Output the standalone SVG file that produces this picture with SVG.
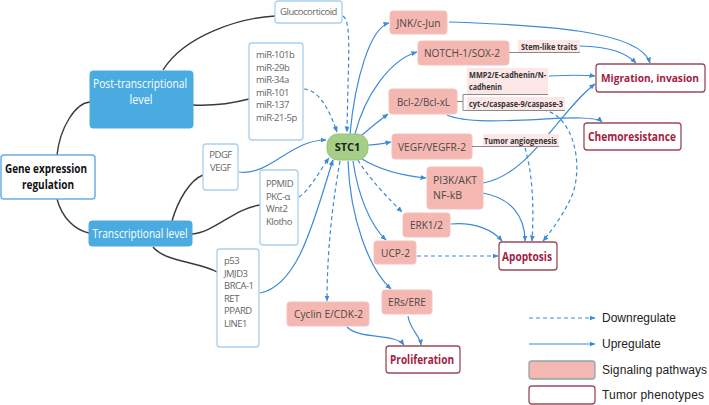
<svg xmlns="http://www.w3.org/2000/svg" width="709" height="405" viewBox="0 0 709 405">
<style>
text{font-family:"Open Sans","Noto Sans","Liberation Sans",sans-serif}
.bk{fill:none;stroke:#3a3a3a;stroke-width:1.4}
.up{fill:none;stroke:#3d8ad6;stroke-width:1.2;marker-end:url(#ah)}
.dn{fill:none;stroke:#3d8ad6;stroke-width:1.2;stroke-dasharray:4 3;marker-end:url(#ah)}
.lab{fill:none;stroke:#8a8a8a;stroke-width:1}
.blue{fill:#4aabe0;stroke:#4aabe0}
.wt{fill:#fff;font-size:12.5px;text-anchor:middle}
.src{fill:#fff;stroke:#a9cfee;stroke-width:1.3}
.st{fill:#666;font-size:9.5px;letter-spacing:-0.5px}
.sig{fill:#f5b7b1;stroke:#f3c2bd;stroke-width:1}
.sigt{fill:#4a4a4a;font-size:11.5px;text-anchor:middle}
.ph{fill:#fff;stroke:#9a4a5a;stroke-width:1.3}
.pht{fill:#a3213f;font-size:11.5px;font-weight:bold;text-anchor:middle}
.lb{fill:#fce6e6}
.lbt{fill:#333;font-size:8px;font-weight:bold}
.lg{fill:#222;font-size:12px;font-family:"Liberation Sans",Arial,sans-serif}
</style>
<defs>
<marker id="ah" markerWidth="6" markerHeight="6" refX="5.5" refY="3" orient="auto" markerUnits="userSpaceOnUse">
<path d="M0,0.5 L6,3 L0,5.5 z" fill="#3d8ad6"/>
</marker>
</defs>

<g id="connectors">
<path class="bk" d="M57,155 C60,128 75,103 90,102"/>
<path class="bk" d="M57,199 C62,218 75,230 89,233"/>
<path class="bk" d="M163,70 C185,35 240,18 275,16"/>
<path class="bk" d="M193,105 C215,106 230,104 249,99"/>
<path class="bk" d="M172,221 C178,200 190,180 203,175"/>
<path class="bk" d="M192,234 C215,232 235,208 260,205"/>
<path class="bk" d="M153,247 C165,262 200,262 217,272"/>

<path class="dn" d="M343,16 C352,22 348,60 347,132"/>
<path class="dn" d="M304,89 C320,90 330,112 337,132"/>
<path class="up" d="M239,172 C270,176 290,140 326,140"/>
<path class="dn" d="M299,197 C310,190 320,170 329,158"/>
<path class="up" d="M260,293 C300,285 315,215 333,160"/>

<path class="up" d="M350,134 C355,80 370,28 389,23"/>
<path class="up" d="M355,134 C365,95 390,60 417,52"/>
<path class="up" d="M362,135 C370,128 380,120 388,114"/>
<path class="up" d="M368,145 C375,145 380,144 391,142"/>
<path class="up" d="M362,159 C380,170 405,176 426,178"/>
<path class="dn" d="M358,160 C370,180 390,200 402,212"/>
<path class="up" d="M353,161 C358,195 370,225 386,240"/>
<path class="up" d="M348,161 C350,220 370,270 391,289"/>
<path class="dn" d="M340,161 C333,200 327,250 327,301"/>

<path class="up" d="M449,22 C540,25 640,30 650,63"/>
<path class="up" d="M580,46 C610,47 625,52 636,63"/>
<path class="up" d="M549,76 C570,75 585,75 595,76"/>
<path class="up" d="M447,115 C480,130 590,110 602,122"/>
<path class="dn" d="M543,110 C575,115 585,170 570,200 C560,220 548,235 543,241"/>
<path class="dn" d="M525,148 C533,175 534,210 532,241"/>
<path class="up" d="M483,183 C530,175 560,110 595,84"/>
<path class="up" d="M483,193 C510,198 525,215 525,241"/>
<path class="up" d="M451,224 C475,222 493,230 502,241"/>
<path class="dn" d="M417,256 L498,256"/>
<path class="up" d="M347,327 C360,340 395,333 404,345"/>
<path class="up" d="M408,316 C410,330 420,335 421,345"/>
</g>

<g id="gene">
<rect x="1" y="155" width="94" height="44" rx="3" fill="#fff" stroke="#6aaee3" stroke-width="1.5"/>
<text x="46" y="173" font-size="12" font-weight="bold" text-anchor="middle" fill="#111" textLength="82" lengthAdjust="spacingAndGlyphs">Gene expression</text>
<text x="48" y="189" font-size="12" font-weight="bold" text-anchor="middle" fill="#111" textLength="52" lengthAdjust="spacingAndGlyphs">regulation</text>
</g>
<g id="post">
<rect class="blue" x="90" y="71" width="103" height="57" rx="3"/>
<text class="wt" x="140" y="88" textLength="94" lengthAdjust="spacingAndGlyphs">Post-transcriptional</text>
<text class="wt" x="141" y="104" textLength="23" lengthAdjust="spacingAndGlyphs">level</text>
</g>
<g id="trans">
<rect class="blue" x="89" y="221" width="103" height="25" rx="3"/>
<text class="wt" x="140" y="238" textLength="95" lengthAdjust="spacingAndGlyphs">Transcriptional level</text>
</g>

<g id="glucocorticoid">
<rect class="src" x="275" y="1" width="67" height="22" rx="3"/>
<text class="st" x="308.5" y="15" text-anchor="middle">Glucocorticoid</text>
</g>
<g id="mir">
<rect class="src" x="249" y="43" width="54" height="97" rx="3"/>
<text class="st" x="256" y="58">miR-101b</text>
<text class="st" x="256" y="70.5">miR-29b</text>
<text class="st" x="256" y="83">miR-34a</text>
<text class="st" x="256" y="95.5">miR-101</text>
<text class="st" x="256" y="108">miR-137</text>
<text class="st" x="256" y="120.5">miR-21-5p</text>
</g>
<g id="pdgf">
<rect class="src" x="203" y="144" width="35" height="46" rx="3"/>
<text class="st" x="220.5" y="158" text-anchor="middle">PDGF</text>
<text class="st" x="220.5" y="170.5" text-anchor="middle">VEGF</text>
</g>
<g id="ppmid">
<rect class="src" x="260" y="170" width="38" height="75" rx="3"/>
<text class="st" x="266" y="187">PPMID</text>
<text class="st" x="266" y="199.5">PKC-α</text>
<text class="st" x="266" y="212">Wnt2</text>
<text class="st" x="266" y="224.5">Klotho</text>
</g>
<g id="p53">
<rect class="src" x="217" y="249" width="42" height="98" rx="3"/>
<text class="st" x="224" y="264">p53</text>
<text class="st" x="224" y="276.5">JMJD3</text>
<text class="st" x="224" y="289">BRCA-1</text>
<text class="st" x="224" y="301.5">RET</text>
<text class="st" x="224" y="314">PPARD</text>
<text class="st" x="224" y="326.5">LINE1</text>
</g>

<g id="stc1">
<rect x="327" y="134" width="41" height="26" rx="11" fill="#a5cf86" stroke="#97c47a"/>
<text x="347.5" y="151" font-size="11" font-weight="bold" text-anchor="middle" fill="#222">STC1</text>
</g>

<g id="jnk">
<rect class="sig" x="390" y="11" width="57" height="23" rx="3"/>
<text class="sigt" x="418.5" y="27" textLength="44" lengthAdjust="spacingAndGlyphs">JNK/c-Jun</text>
</g>
<g id="notch">
<rect class="sig" x="418" y="41" width="91" height="24" rx="3"/>
<text class="sigt" x="462" y="57" textLength="76" lengthAdjust="spacingAndGlyphs">NOTCH-1/SOX-2</text>
</g>
<g id="stem">
<rect class="lb" x="518" y="40" width="62" height="12"/>
<line class="lab" x1="509" y1="52.5" x2="580" y2="52.5"/>
<text class="lbt" x="521" y="49.5" textLength="56" lengthAdjust="spacingAndGlyphs">Stem-like traits</text>
</g>
<g id="bcl">
<rect class="sig" x="389" y="89" width="68" height="25" rx="3"/>
<text class="sigt" x="423.5" y="106" textLength="53" lengthAdjust="spacingAndGlyphs">Bcl-2/Bcl-xL</text>
</g>
<g id="mmp2">
<rect class="lb" x="467" y="68" width="81" height="26"/>
<line class="lab" x1="463" y1="94.5" x2="548" y2="94.5"/>
<text class="lbt" x="469" y="78" textLength="77" lengthAdjust="spacingAndGlyphs">MMP2/E-cadhenin/N-</text>
<text class="lbt" x="469" y="89.5" textLength="33" lengthAdjust="spacingAndGlyphs">cadhenin</text>
</g>
<g id="cytc">
<rect class="lb" x="467" y="97" width="98" height="13"/>
<line class="lab" x1="463" y1="110.5" x2="565" y2="110.5"/>
<path class="lab" d="M457,101.5 H463 V94.5 M463,101.5 V110.5"/>
<text class="lbt" x="469" y="107" textLength="94" lengthAdjust="spacingAndGlyphs">cyt-c/caspase-9/caspase-3</text>
</g>
<g id="vegf">
<rect class="sig" x="392" y="134" width="80" height="25" rx="3"/>
<text class="sigt" x="432" y="151" textLength="68" lengthAdjust="spacingAndGlyphs">VEGF/VEGFR-2</text>
</g>
<g id="angio">
<rect class="lb" x="483" y="134" width="76" height="12"/>
<line class="lab" x1="472" y1="146.5" x2="559" y2="146.5"/>
<text class="lbt" x="484" y="143.5" textLength="73" lengthAdjust="spacingAndGlyphs">Tumor angiogenesis</text>
</g>
<g id="pi3k">
<rect class="sig" x="427" y="167" width="56" height="42" rx="3"/>
<text class="sigt" x="455" y="184" textLength="44" lengthAdjust="spacingAndGlyphs">PI3K/AKT</text>
<text class="sigt" x="447.5" y="199" textLength="29" lengthAdjust="spacingAndGlyphs">NF-kB</text>
</g>
<g id="erk">
<rect class="sig" x="403" y="213" width="47" height="24" rx="3"/>
<text class="sigt" x="426.5" y="229" textLength="33" lengthAdjust="spacingAndGlyphs">ERK1/2</text>
</g>
<g id="ucp">
<rect class="sig" x="374" y="241" width="42" height="23" rx="3"/>
<text class="sigt" x="395.5" y="257" textLength="29" lengthAdjust="spacingAndGlyphs">UCP-2</text>
</g>
<g id="ers">
<rect class="sig" x="382" y="290" width="50" height="24" rx="3"/>
<text class="sigt" x="407" y="306" textLength="38" lengthAdjust="spacingAndGlyphs">ERs/ERE</text>
</g>
<g id="cyclin">
<rect class="sig" x="287" y="302" width="82" height="24" rx="3"/>
<text class="sigt" x="328.5" y="318" textLength="69" lengthAdjust="spacingAndGlyphs">Cyclin E/CDK-2</text>
</g>

<g id="migration">
<rect class="ph" x="596" y="64" width="109" height="28" rx="3"/>
<text class="pht" x="650" y="82" font-size="10.8" textLength="98" lengthAdjust="spacingAndGlyphs" style="font-size:10.8px">Migration, invasion</text>
</g>
<g id="chemo">
<rect class="ph" x="584" y="123" width="97" height="27" rx="3"/>
<text class="pht" x="632" y="141" textLength="88" lengthAdjust="spacingAndGlyphs">Chemoresistance</text>
</g>
<g id="apoptosis">
<rect class="ph" x="499" y="242" width="58" height="28" rx="3"/>
<text class="pht" x="527" y="260.5" textLength="50" lengthAdjust="spacingAndGlyphs">Apoptosis</text>
</g>
<g id="proliferation">
<rect class="ph" x="386" y="346" width="74" height="27" rx="3"/>
<text class="pht" x="422" y="364" textLength="64" lengthAdjust="spacingAndGlyphs">Proliferation</text>
</g>

<g id="legend">
<line class="dn" x1="529" y1="318" x2="595" y2="318"/>
<text class="lg" x="602" y="322">Downregulate</text>
<line class="up" x1="529" y1="344" x2="595" y2="344"/>
<text class="lg" x="602" y="348">Upregulate</text>
<rect x="529" y="361" width="66" height="18" rx="3" fill="#f5b7b1" stroke="#8fa6a6" stroke-width="1.3"/>
<text class="lg" x="602" y="374" textLength="105" lengthAdjust="spacing">Signaling pathways</text>
<rect class="ph" x="529" y="386" width="66" height="18" rx="3"/>
<text class="lg" x="602" y="399" textLength="102" lengthAdjust="spacing">Tumor phenotypes</text>
</g>
</svg>
